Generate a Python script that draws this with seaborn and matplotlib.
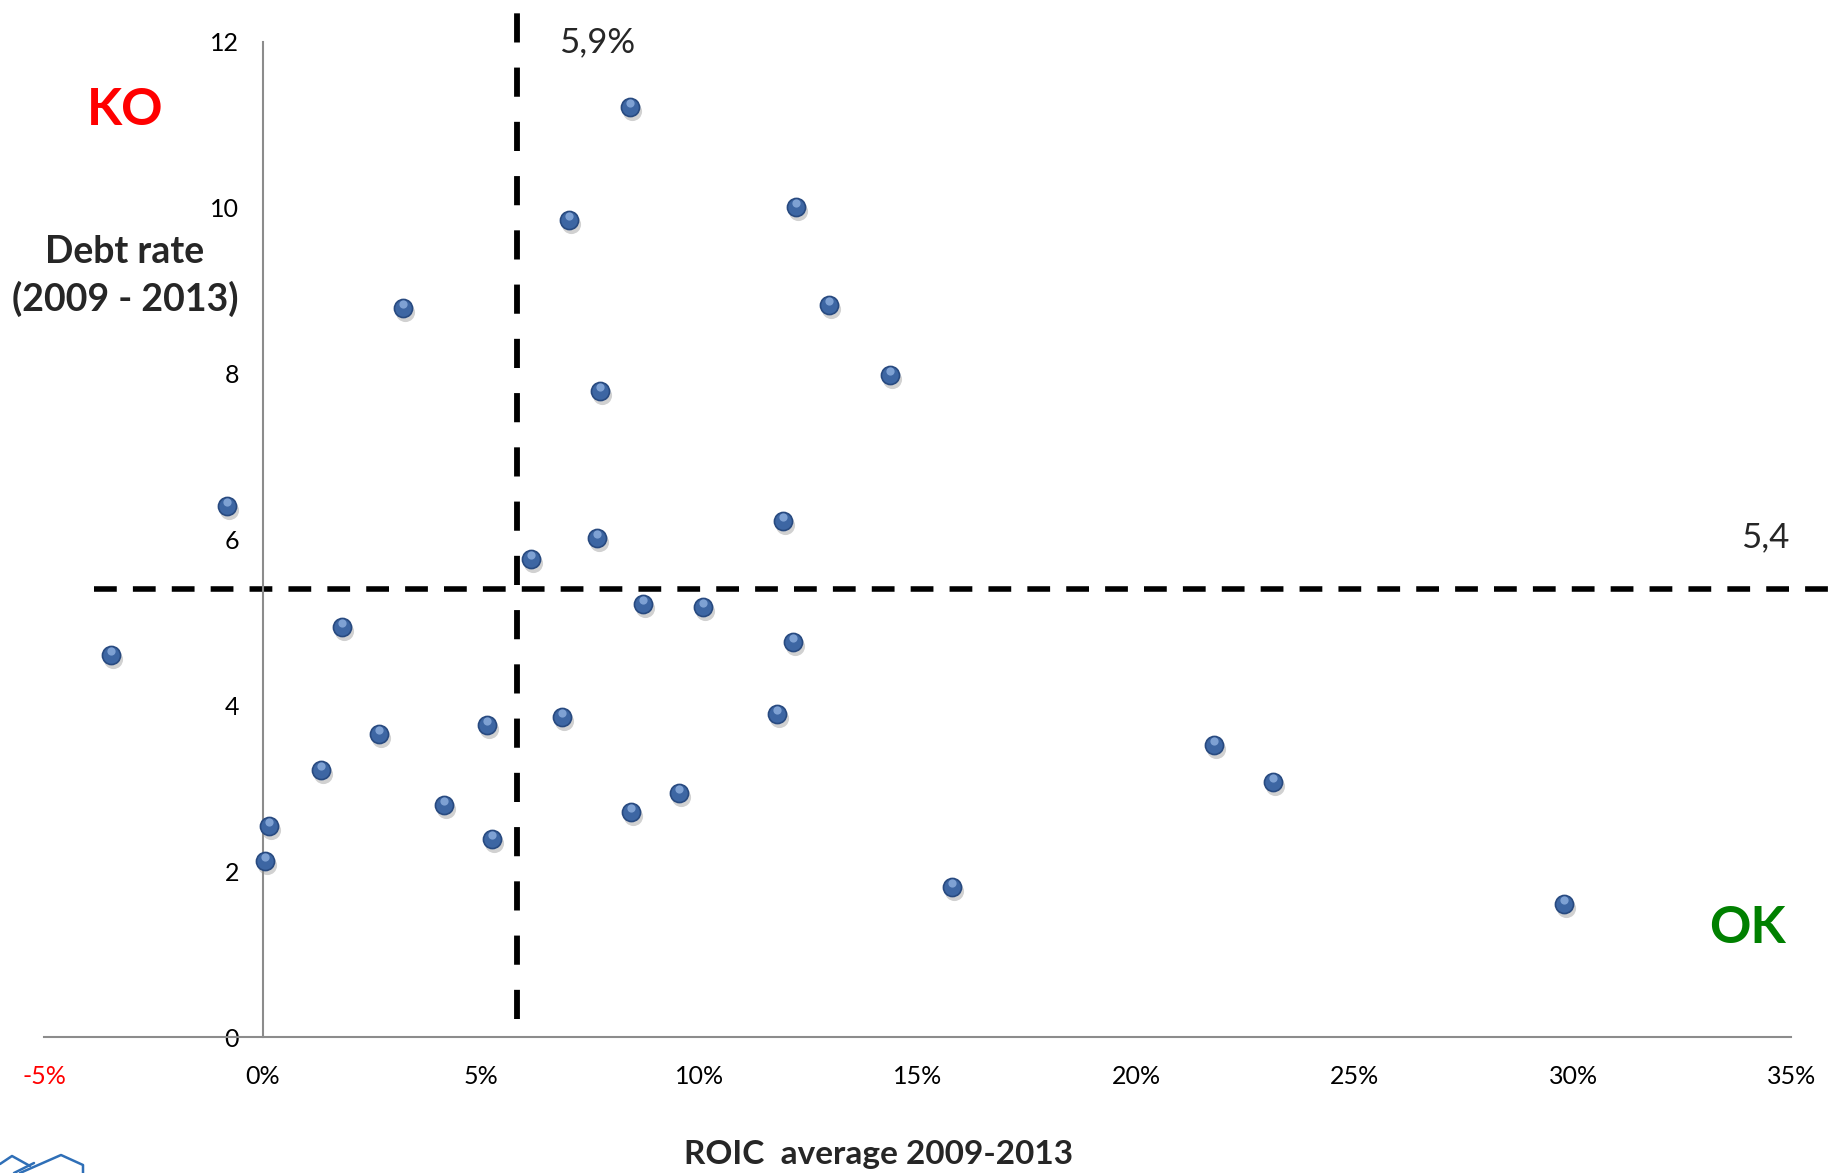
import numpy as np
import pandas as pd
import matplotlib
matplotlib.use('Agg')
import matplotlib.pyplot as plt
import matplotlib.transforms as mtransforms
import seaborn as sns

# ──────────────────────────────────────────
# DATA
# ──────────────────────────────────────────
roic = [8.41, 7.02, 12.20, 3.21, 12.97, 7.72, 14.37, -0.81, 11.90, 7.66,
        6.13, 8.71, 10.08, 1.81, 12.14, -3.47, 6.86, 11.77, 5.14, 2.65,
        21.77, 1.33, 23.12, 9.54, 4.15, 8.44, 0.15, 5.25, 0.04, 15.79,
        29.80]
debt = [11.22, 9.85, 10.01, 8.79, 8.83, 7.79, 7.99, 6.40, 6.22, 6.02,
        5.77, 5.22, 5.19, 4.95, 4.76, 4.61, 3.86, 3.90, 3.76, 3.66,
        3.52, 3.22, 3.08, 2.94, 2.80, 2.71, 2.54, 2.39, 2.12, 1.81,
        1.61]

roic_threshold = 5.82   # drawn position of the "5,9%" line
debt_threshold = 5.4

x_ticks = [-5, 0, 5, 10, 15, 20, 25, 30, 35]
x_tick_labels = ['-5%', '0%', '5%', '10%', '15%', '20%', '25%', '30%', '35%']
y_ticks = [0, 2, 4, 6, 8, 10, 12]

df = pd.DataFrame({'roic': roic, 'debt': debt})

# ──────────────────────────────────────────
# STYLE
# ──────────────────────────────────────────
sns.set_style('white')
plt.rcParams['font.family'] = ['Lato', 'DejaVu Sans']

fig = plt.figure(figsize=(18.37, 11.73), dpi=100)
ax = fig.add_axes([0.0242, 0.1159, 0.951, 0.8483])

# shadow, ball, highlight
shadow_tr = mtransforms.offset_copy(ax.transData, fig=fig, x=2, y=-4, units='dots')
ax.scatter(df['roic'], df['debt'], s=190, color='#9a9a9a', alpha=0.45,
           linewidths=0, transform=shadow_tr, zorder=2)
sns.scatterplot(data=df, x='roic', y='debt', ax=ax, s=170, color='#3d66a3',
                edgecolor='#284a80', linewidth=1.2, zorder=3)
hl_tr = mtransforms.offset_copy(ax.transData, fig=fig, x=0, y=4, units='dots')
ax.scatter(df['roic'], df['debt'], s=35, color='#8fb0e0', alpha=0.8,
           linewidths=0, transform=hl_tr, zorder=4)

# threshold lines
ax.plot([roic_threshold, roic_threshold], [0.22, 12.43], color='black', lw=4.2,
        dashes=(5.0, 4.3), clip_on=False, zorder=1)
ax.plot([-3.87, 35.9], [debt_threshold, debt_threshold], color='black', lw=4,
        dashes=(4.1, 2.9), clip_on=False, zorder=1)

ax.set_xlim(-5, 35)
ax.set_ylim(0, 12)

# Excel style axes crossing at zero
for side in ['top', 'right']:
    ax.spines[side].set_visible(False)
ax.spines['left'].set_position(('data', 0))
ax.spines['bottom'].set_position(('data', 0))
for side in ['left', 'bottom']:
    ax.spines[side].set_color('#8c8c8c')
    ax.spines[side].set_linewidth(1.5)

ax.set_xticks(x_ticks)
ax.set_xticklabels(x_tick_labels)
ax.set_yticks(y_ticks)
ax.tick_params(axis='both', direction='out', length=8, width=1.5,
               color='#8c8c8c', labelsize=18, labelcolor='black')
ax.tick_params(axis='x', pad=12)
ax.tick_params(axis='y', pad=9)
ax.get_xticklabels()[0].set_color('red')
ax.set_xlabel('')
ax.set_ylabel('')

# annotations
ax.text(7.65, 12.0, '5,9%', fontsize=25, ha='center', va='center')
ax.text(34.4, 6.03, '5,4', fontsize=25, ha='center', va='center', clip_on=False)
ax.text(-3.16, 11.17, 'KO', fontsize=37, fontweight='bold', color='#ff0000',
        ha='center', va='center', clip_on=False)
ax.text(34.0, 1.31, 'OK', fontsize=37, fontweight='bold', color='#008000',
        ha='center', va='center')
ax.text(-3.16, 9.18, 'Debt rate\n(2009 - 2013)', fontsize=27, fontweight='bold',
        ha='center', va='center', linespacing=1.4, clip_on=False)

fig.text(0.478, 0.016, 'ROIC  average 2009-2013', fontsize=24, fontweight='bold',
         ha='center', va='center')

# partial logo in the bottom left corner
W, H = 1837, 1173
logo_a = [(0, 1164), (12, 1156), (30, 1166)]
logo_b = [(20, 1173), (61, 1155), (83, 1165), (83, 1173)]
logo_c = [(14, 1173), (34, 1163)]
for pts in [logo_a, logo_b, logo_c]:
    xs = [p[0] / W for p in pts]
    ys = [1 - p[1] / H for p in pts]
    fig.add_artist(plt.Line2D(xs, ys, color='#2f6fb7', lw=1.8,
                              transform=fig.transFigure))

plt.savefig('out.png', dpi=100)
plt.close()
